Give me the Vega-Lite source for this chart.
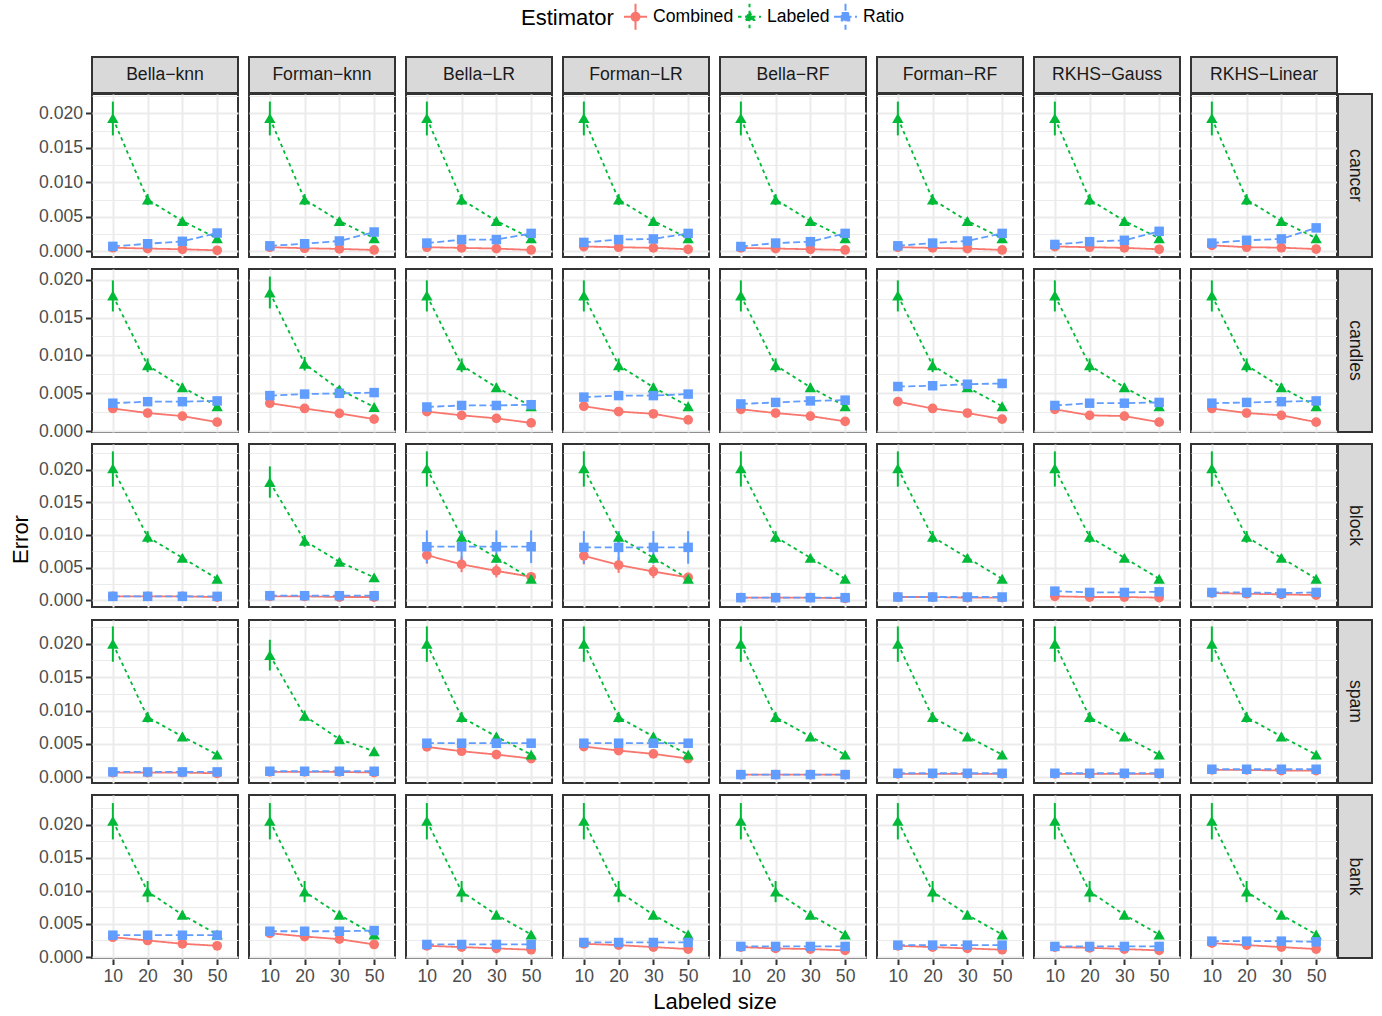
{
  "$schema": "https://vega.github.io/schema/vega-lite/v6.json",
  "padding": {"left": 9, "top": 3, "right": 5, "bottom": 5},
  "config": {
    "font": "Liberation Sans",
    "view": {"stroke": "#333333", "strokeWidth": 2},
    "axis": {
      "domain": false,
      "gridColor": "#EBEBEB",
      "gridWidth": 2,
      "tickColor": "#333333",
      "tickWidth": 2,
      "tickSize": 5.5,
      "labelColor": "#4D4D4D",
      "labelFontSize": 17.6,
      "labelPadding": 3,
      "titleColor": "#000000",
      "titleFontSize": 22,
      "titleFontWeight": "normal",
      "titlePadding": 6
    },
    "legend": {
      "orient": "none",
      "legendX": 429,
      "legendY": -54,
      "padding": 0,
      "direction": "horizontal",
      "titleOrient": "left",
      "titleFontSize": 22,
      "titleFontWeight": "normal",
      "titleColor": "#000000",
      "titleAnchor": "middle",
      "titleBaseline": "middle",
      "titlePadding": 8,
      "labelFontSize": 17.6,
      "labelColor": "#000000",
      "labelOffset": 4,
      "columnPadding": 0,
      "symbolSize": 625,
      "symbolStrokeWidth": 2
    }
  },
  "datasets": {
    "methods": [
      {"m": "Bella−knn"}, {"m": "Forman−knn"}, {"m": "Bella−LR"}, {"m": "Forman−LR"},
      {"m": "Bella−RF"}, {"m": "Forman−RF"}, {"m": "RKHS−Gauss"}, {"m": "RKHS−Linear"}
    ],
    "results": [
      {"d":"cancer","m":"Bella−knn","e":"Combined","n":10,"v":0.00053},
      {"d":"cancer","m":"Bella−knn","e":"Combined","n":20,"v":0.0004},
      {"d":"cancer","m":"Bella−knn","e":"Combined","n":30,"v":0.0003},
      {"d":"cancer","m":"Bella−knn","e":"Combined","n":50,"v":0.00015},
      {"d":"cancer","m":"Bella−knn","e":"Labeled","n":10,"v":0.0193,"lo":0.0168,"hi":0.0217},
      {"d":"cancer","m":"Bella−knn","e":"Labeled","n":20,"v":0.0075,"lo":0.0067,"hi":0.0083},
      {"d":"cancer","m":"Bella−knn","e":"Labeled","n":30,"v":0.0044,"lo":0.0039,"hi":0.0049},
      {"d":"cancer","m":"Bella−knn","e":"Labeled","n":50,"v":0.0019,"lo":0.0016,"hi":0.0022},
      {"d":"cancer","m":"Bella−knn","e":"Ratio","n":10,"v":0.00072},
      {"d":"cancer","m":"Bella−knn","e":"Ratio","n":20,"v":0.0011},
      {"d":"cancer","m":"Bella−knn","e":"Ratio","n":30,"v":0.00145},
      {"d":"cancer","m":"Bella−knn","e":"Ratio","n":50,"v":0.00265},

      {"d":"cancer","m":"Forman−knn","e":"Combined","n":10,"v":0.0006},
      {"d":"cancer","m":"Forman−knn","e":"Combined","n":20,"v":0.00045},
      {"d":"cancer","m":"Forman−knn","e":"Combined","n":30,"v":0.00035},
      {"d":"cancer","m":"Forman−knn","e":"Combined","n":50,"v":0.0002},
      {"d":"cancer","m":"Forman−knn","e":"Labeled","n":10,"v":0.0193,"lo":0.0168,"hi":0.0217},
      {"d":"cancer","m":"Forman−knn","e":"Labeled","n":20,"v":0.0075,"lo":0.0067,"hi":0.0083},
      {"d":"cancer","m":"Forman−knn","e":"Labeled","n":30,"v":0.0044,"lo":0.0039,"hi":0.0049},
      {"d":"cancer","m":"Forman−knn","e":"Labeled","n":50,"v":0.0019,"lo":0.0016,"hi":0.0022},
      {"d":"cancer","m":"Forman−knn","e":"Ratio","n":10,"v":0.0008},
      {"d":"cancer","m":"Forman−knn","e":"Ratio","n":20,"v":0.0011},
      {"d":"cancer","m":"Forman−knn","e":"Ratio","n":30,"v":0.0015},
      {"d":"cancer","m":"Forman−knn","e":"Ratio","n":50,"v":0.0028},

      {"d":"cancer","m":"Bella−LR","e":"Combined","n":10,"v":0.0006},
      {"d":"cancer","m":"Bella−LR","e":"Combined","n":20,"v":0.0005},
      {"d":"cancer","m":"Bella−LR","e":"Combined","n":30,"v":0.0004},
      {"d":"cancer","m":"Bella−LR","e":"Combined","n":50,"v":0.0002},
      {"d":"cancer","m":"Bella−LR","e":"Labeled","n":10,"v":0.0193,"lo":0.0168,"hi":0.0217},
      {"d":"cancer","m":"Bella−LR","e":"Labeled","n":20,"v":0.0075,"lo":0.0067,"hi":0.0083},
      {"d":"cancer","m":"Bella−LR","e":"Labeled","n":30,"v":0.0044,"lo":0.0039,"hi":0.0049},
      {"d":"cancer","m":"Bella−LR","e":"Labeled","n":50,"v":0.0019,"lo":0.0016,"hi":0.0022},
      {"d":"cancer","m":"Bella−LR","e":"Ratio","n":10,"v":0.0012},
      {"d":"cancer","m":"Bella−LR","e":"Ratio","n":20,"v":0.0017},
      {"d":"cancer","m":"Bella−LR","e":"Ratio","n":30,"v":0.0017},
      {"d":"cancer","m":"Bella−LR","e":"Ratio","n":50,"v":0.0026},

      {"d":"cancer","m":"Forman−LR","e":"Combined","n":10,"v":0.0007},
      {"d":"cancer","m":"Forman−LR","e":"Combined","n":20,"v":0.0006},
      {"d":"cancer","m":"Forman−LR","e":"Combined","n":30,"v":0.0005},
      {"d":"cancer","m":"Forman−LR","e":"Combined","n":50,"v":0.0003},
      {"d":"cancer","m":"Forman−LR","e":"Labeled","n":10,"v":0.0193,"lo":0.0168,"hi":0.0217},
      {"d":"cancer","m":"Forman−LR","e":"Labeled","n":20,"v":0.0075,"lo":0.0067,"hi":0.0083},
      {"d":"cancer","m":"Forman−LR","e":"Labeled","n":30,"v":0.0044,"lo":0.0039,"hi":0.0049},
      {"d":"cancer","m":"Forman−LR","e":"Labeled","n":50,"v":0.0019,"lo":0.0016,"hi":0.0022},
      {"d":"cancer","m":"Forman−LR","e":"Ratio","n":10,"v":0.0013},
      {"d":"cancer","m":"Forman−LR","e":"Ratio","n":20,"v":0.0017},
      {"d":"cancer","m":"Forman−LR","e":"Ratio","n":30,"v":0.0018},
      {"d":"cancer","m":"Forman−LR","e":"Ratio","n":50,"v":0.0026},

      {"d":"cancer","m":"Bella−RF","e":"Combined","n":10,"v":0.0005},
      {"d":"cancer","m":"Bella−RF","e":"Combined","n":20,"v":0.0004},
      {"d":"cancer","m":"Bella−RF","e":"Combined","n":30,"v":0.0003},
      {"d":"cancer","m":"Bella−RF","e":"Combined","n":50,"v":0.0002},
      {"d":"cancer","m":"Bella−RF","e":"Labeled","n":10,"v":0.0193,"lo":0.0168,"hi":0.0217},
      {"d":"cancer","m":"Bella−RF","e":"Labeled","n":20,"v":0.0075,"lo":0.0067,"hi":0.0083},
      {"d":"cancer","m":"Bella−RF","e":"Labeled","n":30,"v":0.0044,"lo":0.0039,"hi":0.0049},
      {"d":"cancer","m":"Bella−RF","e":"Labeled","n":50,"v":0.0019,"lo":0.0016,"hi":0.0022},
      {"d":"cancer","m":"Bella−RF","e":"Ratio","n":10,"v":0.0007},
      {"d":"cancer","m":"Bella−RF","e":"Ratio","n":20,"v":0.0012},
      {"d":"cancer","m":"Bella−RF","e":"Ratio","n":30,"v":0.0014},
      {"d":"cancer","m":"Bella−RF","e":"Ratio","n":50,"v":0.0026},

      {"d":"cancer","m":"Forman−RF","e":"Combined","n":10,"v":0.0006},
      {"d":"cancer","m":"Forman−RF","e":"Combined","n":20,"v":0.0005},
      {"d":"cancer","m":"Forman−RF","e":"Combined","n":30,"v":0.0004},
      {"d":"cancer","m":"Forman−RF","e":"Combined","n":50,"v":0.0002},
      {"d":"cancer","m":"Forman−RF","e":"Labeled","n":10,"v":0.0193,"lo":0.0168,"hi":0.0217},
      {"d":"cancer","m":"Forman−RF","e":"Labeled","n":20,"v":0.0075,"lo":0.0067,"hi":0.0083},
      {"d":"cancer","m":"Forman−RF","e":"Labeled","n":30,"v":0.0044,"lo":0.0039,"hi":0.0049},
      {"d":"cancer","m":"Forman−RF","e":"Labeled","n":50,"v":0.0019,"lo":0.0016,"hi":0.0022},
      {"d":"cancer","m":"Forman−RF","e":"Ratio","n":10,"v":0.0008},
      {"d":"cancer","m":"Forman−RF","e":"Ratio","n":20,"v":0.0012},
      {"d":"cancer","m":"Forman−RF","e":"Ratio","n":30,"v":0.0015},
      {"d":"cancer","m":"Forman−RF","e":"Ratio","n":50,"v":0.0026},

      {"d":"cancer","m":"RKHS−Gauss","e":"Combined","n":10,"v":0.0007},
      {"d":"cancer","m":"RKHS−Gauss","e":"Combined","n":20,"v":0.0006},
      {"d":"cancer","m":"RKHS−Gauss","e":"Combined","n":30,"v":0.0005},
      {"d":"cancer","m":"RKHS−Gauss","e":"Combined","n":50,"v":0.0003},
      {"d":"cancer","m":"RKHS−Gauss","e":"Labeled","n":10,"v":0.0193,"lo":0.0168,"hi":0.0217},
      {"d":"cancer","m":"RKHS−Gauss","e":"Labeled","n":20,"v":0.0075,"lo":0.0067,"hi":0.0083},
      {"d":"cancer","m":"RKHS−Gauss","e":"Labeled","n":30,"v":0.0044,"lo":0.0039,"hi":0.0049},
      {"d":"cancer","m":"RKHS−Gauss","e":"Labeled","n":50,"v":0.0019,"lo":0.0016,"hi":0.0022},
      {"d":"cancer","m":"RKHS−Gauss","e":"Ratio","n":10,"v":0.001},
      {"d":"cancer","m":"RKHS−Gauss","e":"Ratio","n":20,"v":0.0014},
      {"d":"cancer","m":"RKHS−Gauss","e":"Ratio","n":30,"v":0.0016},
      {"d":"cancer","m":"RKHS−Gauss","e":"Ratio","n":50,"v":0.0029},

      {"d":"cancer","m":"RKHS−Linear","e":"Combined","n":10,"v":0.00087},
      {"d":"cancer","m":"RKHS−Linear","e":"Combined","n":20,"v":0.0006},
      {"d":"cancer","m":"RKHS−Linear","e":"Combined","n":30,"v":0.00053},
      {"d":"cancer","m":"RKHS−Linear","e":"Combined","n":50,"v":0.00033},
      {"d":"cancer","m":"RKHS−Linear","e":"Labeled","n":10,"v":0.0193,"lo":0.0168,"hi":0.0217},
      {"d":"cancer","m":"RKHS−Linear","e":"Labeled","n":20,"v":0.0075,"lo":0.0067,"hi":0.0083},
      {"d":"cancer","m":"RKHS−Linear","e":"Labeled","n":30,"v":0.0044,"lo":0.0039,"hi":0.0049},
      {"d":"cancer","m":"RKHS−Linear","e":"Labeled","n":50,"v":0.0019,"lo":0.0016,"hi":0.0022},
      {"d":"cancer","m":"RKHS−Linear","e":"Ratio","n":10,"v":0.0012},
      {"d":"cancer","m":"RKHS−Linear","e":"Ratio","n":20,"v":0.0016},
      {"d":"cancer","m":"RKHS−Linear","e":"Ratio","n":30,"v":0.0018},
      {"d":"cancer","m":"RKHS−Linear","e":"Ratio","n":50,"v":0.0034},

      {"d":"candles","m":"Bella−knn","e":"Combined","n":10,"v":0.003},
      {"d":"candles","m":"Bella−knn","e":"Combined","n":20,"v":0.0024},
      {"d":"candles","m":"Bella−knn","e":"Combined","n":30,"v":0.002},
      {"d":"candles","m":"Bella−knn","e":"Combined","n":50,"v":0.0012},
      {"d":"candles","m":"Bella−knn","e":"Labeled","n":10,"v":0.0179,"lo":0.0158,"hi":0.0199},
      {"d":"candles","m":"Bella−knn","e":"Labeled","n":20,"v":0.0087,"lo":0.0078,"hi":0.0096},
      {"d":"candles","m":"Bella−knn","e":"Labeled","n":30,"v":0.0058,"lo":0.0053,"hi":0.0063},
      {"d":"candles","m":"Bella−knn","e":"Labeled","n":50,"v":0.0033,"lo":0.003,"hi":0.0036},
      {"d":"candles","m":"Bella−knn","e":"Ratio","n":10,"v":0.0037},
      {"d":"candles","m":"Bella−knn","e":"Ratio","n":20,"v":0.0039},
      {"d":"candles","m":"Bella−knn","e":"Ratio","n":30,"v":0.0039},
      {"d":"candles","m":"Bella−knn","e":"Ratio","n":50,"v":0.004},

      {"d":"candles","m":"Forman−knn","e":"Combined","n":10,"v":0.0037},
      {"d":"candles","m":"Forman−knn","e":"Combined","n":20,"v":0.003},
      {"d":"candles","m":"Forman−knn","e":"Combined","n":30,"v":0.00235},
      {"d":"candles","m":"Forman−knn","e":"Combined","n":50,"v":0.0016},
      {"d":"candles","m":"Forman−knn","e":"Labeled","n":10,"v":0.0183,"lo":0.0162,"hi":0.0204},
      {"d":"candles","m":"Forman−knn","e":"Labeled","n":20,"v":0.0089,"lo":0.008,"hi":0.0098},
      {"d":"candles","m":"Forman−knn","e":"Labeled","n":30,"v":0.0055,"lo":0.005,"hi":0.006},
      {"d":"candles","m":"Forman−knn","e":"Labeled","n":50,"v":0.0032,"lo":0.0029,"hi":0.0035},
      {"d":"candles","m":"Forman−knn","e":"Ratio","n":10,"v":0.0047},
      {"d":"candles","m":"Forman−knn","e":"Ratio","n":20,"v":0.0049},
      {"d":"candles","m":"Forman−knn","e":"Ratio","n":30,"v":0.005},
      {"d":"candles","m":"Forman−knn","e":"Ratio","n":50,"v":0.0051},

      {"d":"candles","m":"Bella−LR","e":"Combined","n":10,"v":0.0026},
      {"d":"candles","m":"Bella−LR","e":"Combined","n":20,"v":0.0021},
      {"d":"candles","m":"Bella−LR","e":"Combined","n":30,"v":0.0017},
      {"d":"candles","m":"Bella−LR","e":"Combined","n":50,"v":0.0011},
      {"d":"candles","m":"Bella−LR","e":"Labeled","n":10,"v":0.0179,"lo":0.0158,"hi":0.0199},
      {"d":"candles","m":"Bella−LR","e":"Labeled","n":20,"v":0.0087,"lo":0.0078,"hi":0.0096},
      {"d":"candles","m":"Bella−LR","e":"Labeled","n":30,"v":0.0058,"lo":0.0053,"hi":0.0063},
      {"d":"candles","m":"Bella−LR","e":"Labeled","n":50,"v":0.0033,"lo":0.003,"hi":0.0036},
      {"d":"candles","m":"Bella−LR","e":"Ratio","n":10,"v":0.0032},
      {"d":"candles","m":"Bella−LR","e":"Ratio","n":20,"v":0.0034},
      {"d":"candles","m":"Bella−LR","e":"Ratio","n":30,"v":0.0034},
      {"d":"candles","m":"Bella−LR","e":"Ratio","n":50,"v":0.0035},

      {"d":"candles","m":"Forman−LR","e":"Combined","n":10,"v":0.0033},
      {"d":"candles","m":"Forman−LR","e":"Combined","n":20,"v":0.0026},
      {"d":"candles","m":"Forman−LR","e":"Combined","n":30,"v":0.0023},
      {"d":"candles","m":"Forman−LR","e":"Combined","n":50,"v":0.0015},
      {"d":"candles","m":"Forman−LR","e":"Labeled","n":10,"v":0.0179,"lo":0.0158,"hi":0.0199},
      {"d":"candles","m":"Forman−LR","e":"Labeled","n":20,"v":0.0087,"lo":0.0078,"hi":0.0096},
      {"d":"candles","m":"Forman−LR","e":"Labeled","n":30,"v":0.0058,"lo":0.0053,"hi":0.0063},
      {"d":"candles","m":"Forman−LR","e":"Labeled","n":50,"v":0.0033,"lo":0.003,"hi":0.0036},
      {"d":"candles","m":"Forman−LR","e":"Ratio","n":10,"v":0.0045},
      {"d":"candles","m":"Forman−LR","e":"Ratio","n":20,"v":0.0047},
      {"d":"candles","m":"Forman−LR","e":"Ratio","n":30,"v":0.0047},
      {"d":"candles","m":"Forman−LR","e":"Ratio","n":50,"v":0.0049},

      {"d":"candles","m":"Bella−RF","e":"Combined","n":10,"v":0.0029},
      {"d":"candles","m":"Bella−RF","e":"Combined","n":20,"v":0.0024},
      {"d":"candles","m":"Bella−RF","e":"Combined","n":30,"v":0.002},
      {"d":"candles","m":"Bella−RF","e":"Combined","n":50,"v":0.0013},
      {"d":"candles","m":"Bella−RF","e":"Labeled","n":10,"v":0.0179,"lo":0.0158,"hi":0.0199},
      {"d":"candles","m":"Bella−RF","e":"Labeled","n":20,"v":0.0087,"lo":0.0078,"hi":0.0096},
      {"d":"candles","m":"Bella−RF","e":"Labeled","n":30,"v":0.0058,"lo":0.0053,"hi":0.0063},
      {"d":"candles","m":"Bella−RF","e":"Labeled","n":50,"v":0.0033,"lo":0.003,"hi":0.0036},
      {"d":"candles","m":"Bella−RF","e":"Ratio","n":10,"v":0.0036},
      {"d":"candles","m":"Bella−RF","e":"Ratio","n":20,"v":0.0038},
      {"d":"candles","m":"Bella−RF","e":"Ratio","n":30,"v":0.004},
      {"d":"candles","m":"Bella−RF","e":"Ratio","n":50,"v":0.0041},

      {"d":"candles","m":"Forman−RF","e":"Combined","n":10,"v":0.0039},
      {"d":"candles","m":"Forman−RF","e":"Combined","n":20,"v":0.003},
      {"d":"candles","m":"Forman−RF","e":"Combined","n":30,"v":0.0024},
      {"d":"candles","m":"Forman−RF","e":"Combined","n":50,"v":0.0016},
      {"d":"candles","m":"Forman−RF","e":"Labeled","n":10,"v":0.0179,"lo":0.0158,"hi":0.0199},
      {"d":"candles","m":"Forman−RF","e":"Labeled","n":20,"v":0.0087,"lo":0.0078,"hi":0.0096},
      {"d":"candles","m":"Forman−RF","e":"Labeled","n":30,"v":0.0058,"lo":0.0053,"hi":0.0063},
      {"d":"candles","m":"Forman−RF","e":"Labeled","n":50,"v":0.0033,"lo":0.003,"hi":0.0036},
      {"d":"candles","m":"Forman−RF","e":"Ratio","n":10,"v":0.0059},
      {"d":"candles","m":"Forman−RF","e":"Ratio","n":20,"v":0.006},
      {"d":"candles","m":"Forman−RF","e":"Ratio","n":30,"v":0.0062},
      {"d":"candles","m":"Forman−RF","e":"Ratio","n":50,"v":0.0063},

      {"d":"candles","m":"RKHS−Gauss","e":"Combined","n":10,"v":0.0029},
      {"d":"candles","m":"RKHS−Gauss","e":"Combined","n":20,"v":0.0021},
      {"d":"candles","m":"RKHS−Gauss","e":"Combined","n":30,"v":0.002},
      {"d":"candles","m":"RKHS−Gauss","e":"Combined","n":50,"v":0.0012},
      {"d":"candles","m":"RKHS−Gauss","e":"Labeled","n":10,"v":0.0179,"lo":0.0158,"hi":0.0199},
      {"d":"candles","m":"RKHS−Gauss","e":"Labeled","n":20,"v":0.0087,"lo":0.0078,"hi":0.0096},
      {"d":"candles","m":"RKHS−Gauss","e":"Labeled","n":30,"v":0.0058,"lo":0.0053,"hi":0.0063},
      {"d":"candles","m":"RKHS−Gauss","e":"Labeled","n":50,"v":0.0033,"lo":0.003,"hi":0.0036},
      {"d":"candles","m":"RKHS−Gauss","e":"Ratio","n":10,"v":0.0034},
      {"d":"candles","m":"RKHS−Gauss","e":"Ratio","n":20,"v":0.0037},
      {"d":"candles","m":"RKHS−Gauss","e":"Ratio","n":30,"v":0.0037},
      {"d":"candles","m":"RKHS−Gauss","e":"Ratio","n":50,"v":0.0038},

      {"d":"candles","m":"RKHS−Linear","e":"Combined","n":10,"v":0.003},
      {"d":"candles","m":"RKHS−Linear","e":"Combined","n":20,"v":0.0024},
      {"d":"candles","m":"RKHS−Linear","e":"Combined","n":30,"v":0.0021},
      {"d":"candles","m":"RKHS−Linear","e":"Combined","n":50,"v":0.0012},
      {"d":"candles","m":"RKHS−Linear","e":"Labeled","n":10,"v":0.0179,"lo":0.0158,"hi":0.0199},
      {"d":"candles","m":"RKHS−Linear","e":"Labeled","n":20,"v":0.0087,"lo":0.0078,"hi":0.0096},
      {"d":"candles","m":"RKHS−Linear","e":"Labeled","n":30,"v":0.0058,"lo":0.0053,"hi":0.0063},
      {"d":"candles","m":"RKHS−Linear","e":"Labeled","n":50,"v":0.0033,"lo":0.003,"hi":0.0036},
      {"d":"candles","m":"RKHS−Linear","e":"Ratio","n":10,"v":0.0037},
      {"d":"candles","m":"RKHS−Linear","e":"Ratio","n":20,"v":0.0038},
      {"d":"candles","m":"RKHS−Linear","e":"Ratio","n":30,"v":0.0039},
      {"d":"candles","m":"RKHS−Linear","e":"Ratio","n":50,"v":0.004},

      {"d":"block","m":"Bella−knn","e":"Combined","n":10,"v":0.0006},
      {"d":"block","m":"Bella−knn","e":"Combined","n":20,"v":0.0006},
      {"d":"block","m":"Bella−knn","e":"Combined","n":30,"v":0.0006},
      {"d":"block","m":"Bella−knn","e":"Combined","n":50,"v":0.0005},
      {"d":"block","m":"Bella−knn","e":"Labeled","n":10,"v":0.0202,"lo":0.0174,"hi":0.0228},
      {"d":"block","m":"Bella−knn","e":"Labeled","n":20,"v":0.0097,"lo":0.0088,"hi":0.0106},
      {"d":"block","m":"Bella−knn","e":"Labeled","n":30,"v":0.0065,"lo":0.006,"hi":0.007},
      {"d":"block","m":"Bella−knn","e":"Labeled","n":50,"v":0.0033,"lo":0.003,"hi":0.0036},
      {"d":"block","m":"Bella−knn","e":"Ratio","n":10,"v":0.0006},
      {"d":"block","m":"Bella−knn","e":"Ratio","n":20,"v":0.0006},
      {"d":"block","m":"Bella−knn","e":"Ratio","n":30,"v":0.0006},
      {"d":"block","m":"Bella−knn","e":"Ratio","n":50,"v":0.0006},

      {"d":"block","m":"Forman−knn","e":"Combined","n":10,"v":0.0006},
      {"d":"block","m":"Forman−knn","e":"Combined","n":20,"v":0.0006},
      {"d":"block","m":"Forman−knn","e":"Combined","n":30,"v":0.0005},
      {"d":"block","m":"Forman−knn","e":"Combined","n":50,"v":0.0005},
      {"d":"block","m":"Forman−knn","e":"Labeled","n":10,"v":0.0181,"lo":0.0157,"hi":0.0205},
      {"d":"block","m":"Forman−knn","e":"Labeled","n":20,"v":0.0091,"lo":0.0082,"hi":0.01},
      {"d":"block","m":"Forman−knn","e":"Labeled","n":30,"v":0.0059,"lo":0.0054,"hi":0.0064},
      {"d":"block","m":"Forman−knn","e":"Labeled","n":50,"v":0.0035,"lo":0.0032,"hi":0.0038},
      {"d":"block","m":"Forman−knn","e":"Ratio","n":10,"v":0.0007},
      {"d":"block","m":"Forman−knn","e":"Ratio","n":20,"v":0.0007},
      {"d":"block","m":"Forman−knn","e":"Ratio","n":30,"v":0.0007},
      {"d":"block","m":"Forman−knn","e":"Ratio","n":50,"v":0.0007},

      {"d":"block","m":"Bella−LR","e":"Combined","n":10,"v":0.0069,"lo":0.0056,"hi":0.0082},
      {"d":"block","m":"Bella−LR","e":"Combined","n":20,"v":0.0055,"lo":0.0043,"hi":0.0067},
      {"d":"block","m":"Bella−LR","e":"Combined","n":30,"v":0.0045,"lo":0.0035,"hi":0.0055},
      {"d":"block","m":"Bella−LR","e":"Combined","n":50,"v":0.0036,"lo":0.0029,"hi":0.0043},
      {"d":"block","m":"Bella−LR","e":"Labeled","n":10,"v":0.0202,"lo":0.0174,"hi":0.0228},
      {"d":"block","m":"Bella−LR","e":"Labeled","n":20,"v":0.0097,"lo":0.0088,"hi":0.0106},
      {"d":"block","m":"Bella−LR","e":"Labeled","n":30,"v":0.0065,"lo":0.006,"hi":0.007},
      {"d":"block","m":"Bella−LR","e":"Labeled","n":50,"v":0.0033,"lo":0.003,"hi":0.0036},
      {"d":"block","m":"Bella−LR","e":"Ratio","n":10,"v":0.0082,"lo":0.0057,"hi":0.0107},
      {"d":"block","m":"Bella−LR","e":"Ratio","n":20,"v":0.0082,"lo":0.0057,"hi":0.0107},
      {"d":"block","m":"Bella−LR","e":"Ratio","n":30,"v":0.0082,"lo":0.0057,"hi":0.0107},
      {"d":"block","m":"Bella−LR","e":"Ratio","n":50,"v":0.0082,"lo":0.0057,"hi":0.0107},

      {"d":"block","m":"Forman−LR","e":"Combined","n":10,"v":0.0068,"lo":0.0055,"hi":0.0081},
      {"d":"block","m":"Forman−LR","e":"Combined","n":20,"v":0.0054,"lo":0.0042,"hi":0.0066},
      {"d":"block","m":"Forman−LR","e":"Combined","n":30,"v":0.0044,"lo":0.0034,"hi":0.0054},
      {"d":"block","m":"Forman−LR","e":"Combined","n":50,"v":0.0035,"lo":0.0028,"hi":0.0042},
      {"d":"block","m":"Forman−LR","e":"Labeled","n":10,"v":0.0202,"lo":0.0174,"hi":0.0228},
      {"d":"block","m":"Forman−LR","e":"Labeled","n":20,"v":0.0097,"lo":0.0088,"hi":0.0106},
      {"d":"block","m":"Forman−LR","e":"Labeled","n":30,"v":0.0065,"lo":0.006,"hi":0.007},
      {"d":"block","m":"Forman−LR","e":"Labeled","n":50,"v":0.0033,"lo":0.003,"hi":0.0036},
      {"d":"block","m":"Forman−LR","e":"Ratio","n":10,"v":0.0081,"lo":0.0056,"hi":0.0106},
      {"d":"block","m":"Forman−LR","e":"Ratio","n":20,"v":0.0081,"lo":0.0056,"hi":0.0106},
      {"d":"block","m":"Forman−LR","e":"Ratio","n":30,"v":0.0081,"lo":0.0056,"hi":0.0106},
      {"d":"block","m":"Forman−LR","e":"Ratio","n":50,"v":0.0081,"lo":0.0056,"hi":0.0106},

      {"d":"block","m":"Bella−RF","e":"Combined","n":10,"v":0.0004},
      {"d":"block","m":"Bella−RF","e":"Combined","n":20,"v":0.0004},
      {"d":"block","m":"Bella−RF","e":"Combined","n":30,"v":0.0004},
      {"d":"block","m":"Bella−RF","e":"Combined","n":50,"v":0.0003},
      {"d":"block","m":"Bella−RF","e":"Labeled","n":10,"v":0.0202,"lo":0.0174,"hi":0.0228},
      {"d":"block","m":"Bella−RF","e":"Labeled","n":20,"v":0.0097,"lo":0.0088,"hi":0.0106},
      {"d":"block","m":"Bella−RF","e":"Labeled","n":30,"v":0.0065,"lo":0.006,"hi":0.007},
      {"d":"block","m":"Bella−RF","e":"Labeled","n":50,"v":0.0033,"lo":0.003,"hi":0.0036},
      {"d":"block","m":"Bella−RF","e":"Ratio","n":10,"v":0.0004},
      {"d":"block","m":"Bella−RF","e":"Ratio","n":20,"v":0.0004},
      {"d":"block","m":"Bella−RF","e":"Ratio","n":30,"v":0.0004},
      {"d":"block","m":"Bella−RF","e":"Ratio","n":50,"v":0.0004},

      {"d":"block","m":"Forman−RF","e":"Combined","n":10,"v":0.0005},
      {"d":"block","m":"Forman−RF","e":"Combined","n":20,"v":0.0005},
      {"d":"block","m":"Forman−RF","e":"Combined","n":30,"v":0.0004},
      {"d":"block","m":"Forman−RF","e":"Combined","n":50,"v":0.0004},
      {"d":"block","m":"Forman−RF","e":"Labeled","n":10,"v":0.0202,"lo":0.0174,"hi":0.0228},
      {"d":"block","m":"Forman−RF","e":"Labeled","n":20,"v":0.0097,"lo":0.0088,"hi":0.0106},
      {"d":"block","m":"Forman−RF","e":"Labeled","n":30,"v":0.0065,"lo":0.006,"hi":0.007},
      {"d":"block","m":"Forman−RF","e":"Labeled","n":50,"v":0.0033,"lo":0.003,"hi":0.0036},
      {"d":"block","m":"Forman−RF","e":"Ratio","n":10,"v":0.0005},
      {"d":"block","m":"Forman−RF","e":"Ratio","n":20,"v":0.0005},
      {"d":"block","m":"Forman−RF","e":"Ratio","n":30,"v":0.0005},
      {"d":"block","m":"Forman−RF","e":"Ratio","n":50,"v":0.0005},

      {"d":"block","m":"RKHS−Gauss","e":"Combined","n":10,"v":0.0006},
      {"d":"block","m":"RKHS−Gauss","e":"Combined","n":20,"v":0.0005},
      {"d":"block","m":"RKHS−Gauss","e":"Combined","n":30,"v":0.0005},
      {"d":"block","m":"RKHS−Gauss","e":"Combined","n":50,"v":0.0004},
      {"d":"block","m":"RKHS−Gauss","e":"Labeled","n":10,"v":0.0202,"lo":0.0174,"hi":0.0228},
      {"d":"block","m":"RKHS−Gauss","e":"Labeled","n":20,"v":0.0097,"lo":0.0088,"hi":0.0106},
      {"d":"block","m":"RKHS−Gauss","e":"Labeled","n":30,"v":0.0065,"lo":0.006,"hi":0.007},
      {"d":"block","m":"RKHS−Gauss","e":"Labeled","n":50,"v":0.0033,"lo":0.003,"hi":0.0036},
      {"d":"block","m":"RKHS−Gauss","e":"Ratio","n":10,"v":0.0014,"lo":0.0008,"hi":0.002},
      {"d":"block","m":"RKHS−Gauss","e":"Ratio","n":20,"v":0.0012,"lo":0.0008,"hi":0.0016},
      {"d":"block","m":"RKHS−Gauss","e":"Ratio","n":30,"v":0.0012,"lo":0.0008,"hi":0.0016},
      {"d":"block","m":"RKHS−Gauss","e":"Ratio","n":50,"v":0.0013,"lo":0.0009,"hi":0.0017},

      {"d":"block","m":"RKHS−Linear","e":"Combined","n":10,"v":0.0011},
      {"d":"block","m":"RKHS−Linear","e":"Combined","n":20,"v":0.001},
      {"d":"block","m":"RKHS−Linear","e":"Combined","n":30,"v":0.0009},
      {"d":"block","m":"RKHS−Linear","e":"Combined","n":50,"v":0.0008},
      {"d":"block","m":"RKHS−Linear","e":"Labeled","n":10,"v":0.0202,"lo":0.0174,"hi":0.0228},
      {"d":"block","m":"RKHS−Linear","e":"Labeled","n":20,"v":0.0097,"lo":0.0088,"hi":0.0106},
      {"d":"block","m":"RKHS−Linear","e":"Labeled","n":30,"v":0.0065,"lo":0.006,"hi":0.007},
      {"d":"block","m":"RKHS−Linear","e":"Labeled","n":50,"v":0.0033,"lo":0.003,"hi":0.0036},
      {"d":"block","m":"RKHS−Linear","e":"Ratio","n":10,"v":0.0012},
      {"d":"block","m":"RKHS−Linear","e":"Ratio","n":20,"v":0.0012},
      {"d":"block","m":"RKHS−Linear","e":"Ratio","n":30,"v":0.0011},
      {"d":"block","m":"RKHS−Linear","e":"Ratio","n":50,"v":0.0012},

      {"d":"spam","m":"Bella−knn","e":"Combined","n":10,"v":0.0007},
      {"d":"spam","m":"Bella−knn","e":"Combined","n":20,"v":0.0007},
      {"d":"spam","m":"Bella−knn","e":"Combined","n":30,"v":0.0007},
      {"d":"spam","m":"Bella−knn","e":"Combined","n":50,"v":0.0006},
      {"d":"spam","m":"Bella−knn","e":"Labeled","n":10,"v":0.02,"lo":0.0173,"hi":0.0226},
      {"d":"spam","m":"Bella−knn","e":"Labeled","n":20,"v":0.009,"lo":0.0082,"hi":0.0098},
      {"d":"spam","m":"Bella−knn","e":"Labeled","n":30,"v":0.0061,"lo":0.0056,"hi":0.0066},
      {"d":"spam","m":"Bella−knn","e":"Labeled","n":50,"v":0.0034,"lo":0.0031,"hi":0.0037},
      {"d":"spam","m":"Bella−knn","e":"Ratio","n":10,"v":0.0008},
      {"d":"spam","m":"Bella−knn","e":"Ratio","n":20,"v":0.0008},
      {"d":"spam","m":"Bella−knn","e":"Ratio","n":30,"v":0.0008},
      {"d":"spam","m":"Bella−knn","e":"Ratio","n":50,"v":0.0008},

      {"d":"spam","m":"Forman−knn","e":"Combined","n":10,"v":0.0008},
      {"d":"spam","m":"Forman−knn","e":"Combined","n":20,"v":0.0008},
      {"d":"spam","m":"Forman−knn","e":"Combined","n":30,"v":0.0008},
      {"d":"spam","m":"Forman−knn","e":"Combined","n":50,"v":0.0007},
      {"d":"spam","m":"Forman−knn","e":"Labeled","n":10,"v":0.0183,"lo":0.016,"hi":0.0206},
      {"d":"spam","m":"Forman−knn","e":"Labeled","n":20,"v":0.0092,"lo":0.0084,"hi":0.01},
      {"d":"spam","m":"Forman−knn","e":"Labeled","n":30,"v":0.0057,"lo":0.0052,"hi":0.0062},
      {"d":"spam","m":"Forman−knn","e":"Labeled","n":50,"v":0.0039,"lo":0.0036,"hi":0.0042},
      {"d":"spam","m":"Forman−knn","e":"Ratio","n":10,"v":0.0009},
      {"d":"spam","m":"Forman−knn","e":"Ratio","n":20,"v":0.0009},
      {"d":"spam","m":"Forman−knn","e":"Ratio","n":30,"v":0.0009},
      {"d":"spam","m":"Forman−knn","e":"Ratio","n":50,"v":0.0009},

      {"d":"spam","m":"Bella−LR","e":"Combined","n":10,"v":0.00455},
      {"d":"spam","m":"Bella−LR","e":"Combined","n":20,"v":0.0039},
      {"d":"spam","m":"Bella−LR","e":"Combined","n":30,"v":0.0034},
      {"d":"spam","m":"Bella−LR","e":"Combined","n":50,"v":0.0028},
      {"d":"spam","m":"Bella−LR","e":"Labeled","n":10,"v":0.02,"lo":0.0173,"hi":0.0226},
      {"d":"spam","m":"Bella−LR","e":"Labeled","n":20,"v":0.009,"lo":0.0082,"hi":0.0098},
      {"d":"spam","m":"Bella−LR","e":"Labeled","n":30,"v":0.0061,"lo":0.0056,"hi":0.0066},
      {"d":"spam","m":"Bella−LR","e":"Labeled","n":50,"v":0.0034,"lo":0.0031,"hi":0.0037},
      {"d":"spam","m":"Bella−LR","e":"Ratio","n":10,"v":0.0051},
      {"d":"spam","m":"Bella−LR","e":"Ratio","n":20,"v":0.0051},
      {"d":"spam","m":"Bella−LR","e":"Ratio","n":30,"v":0.0051},
      {"d":"spam","m":"Bella−LR","e":"Ratio","n":50,"v":0.0051},

      {"d":"spam","m":"Forman−LR","e":"Combined","n":10,"v":0.0046},
      {"d":"spam","m":"Forman−LR","e":"Combined","n":20,"v":0.004},
      {"d":"spam","m":"Forman−LR","e":"Combined","n":30,"v":0.0035},
      {"d":"spam","m":"Forman−LR","e":"Combined","n":50,"v":0.0028},
      {"d":"spam","m":"Forman−LR","e":"Labeled","n":10,"v":0.02,"lo":0.0173,"hi":0.0226},
      {"d":"spam","m":"Forman−LR","e":"Labeled","n":20,"v":0.009,"lo":0.0082,"hi":0.0098},
      {"d":"spam","m":"Forman−LR","e":"Labeled","n":30,"v":0.0061,"lo":0.0056,"hi":0.0066},
      {"d":"spam","m":"Forman−LR","e":"Labeled","n":50,"v":0.0034,"lo":0.0031,"hi":0.0037},
      {"d":"spam","m":"Forman−LR","e":"Ratio","n":10,"v":0.0051},
      {"d":"spam","m":"Forman−LR","e":"Ratio","n":20,"v":0.0051},
      {"d":"spam","m":"Forman−LR","e":"Ratio","n":30,"v":0.0051},
      {"d":"spam","m":"Forman−LR","e":"Ratio","n":50,"v":0.0051},

      {"d":"spam","m":"Bella−RF","e":"Combined","n":10,"v":0.0004},
      {"d":"spam","m":"Bella−RF","e":"Combined","n":20,"v":0.0004},
      {"d":"spam","m":"Bella−RF","e":"Combined","n":30,"v":0.0004},
      {"d":"spam","m":"Bella−RF","e":"Combined","n":50,"v":0.0004},
      {"d":"spam","m":"Bella−RF","e":"Labeled","n":10,"v":0.02,"lo":0.0173,"hi":0.0226},
      {"d":"spam","m":"Bella−RF","e":"Labeled","n":20,"v":0.009,"lo":0.0082,"hi":0.0098},
      {"d":"spam","m":"Bella−RF","e":"Labeled","n":30,"v":0.0061,"lo":0.0056,"hi":0.0066},
      {"d":"spam","m":"Bella−RF","e":"Labeled","n":50,"v":0.0034,"lo":0.0031,"hi":0.0037},
      {"d":"spam","m":"Bella−RF","e":"Ratio","n":10,"v":0.0004},
      {"d":"spam","m":"Bella−RF","e":"Ratio","n":20,"v":0.0004},
      {"d":"spam","m":"Bella−RF","e":"Ratio","n":30,"v":0.0004},
      {"d":"spam","m":"Bella−RF","e":"Ratio","n":50,"v":0.0004},

      {"d":"spam","m":"Forman−RF","e":"Combined","n":10,"v":0.0005},
      {"d":"spam","m":"Forman−RF","e":"Combined","n":20,"v":0.0005},
      {"d":"spam","m":"Forman−RF","e":"Combined","n":30,"v":0.0005},
      {"d":"spam","m":"Forman−RF","e":"Combined","n":50,"v":0.0005},
      {"d":"spam","m":"Forman−RF","e":"Labeled","n":10,"v":0.02,"lo":0.0173,"hi":0.0226},
      {"d":"spam","m":"Forman−RF","e":"Labeled","n":20,"v":0.009,"lo":0.0082,"hi":0.0098},
      {"d":"spam","m":"Forman−RF","e":"Labeled","n":30,"v":0.0061,"lo":0.0056,"hi":0.0066},
      {"d":"spam","m":"Forman−RF","e":"Labeled","n":50,"v":0.0034,"lo":0.0031,"hi":0.0037},
      {"d":"spam","m":"Forman−RF","e":"Ratio","n":10,"v":0.0006},
      {"d":"spam","m":"Forman−RF","e":"Ratio","n":20,"v":0.0006},
      {"d":"spam","m":"Forman−RF","e":"Ratio","n":30,"v":0.0006},
      {"d":"spam","m":"Forman−RF","e":"Ratio","n":50,"v":0.0006},

      {"d":"spam","m":"RKHS−Gauss","e":"Combined","n":10,"v":0.0005},
      {"d":"spam","m":"RKHS−Gauss","e":"Combined","n":20,"v":0.0005},
      {"d":"spam","m":"RKHS−Gauss","e":"Combined","n":30,"v":0.0005},
      {"d":"spam","m":"RKHS−Gauss","e":"Combined","n":50,"v":0.0005},
      {"d":"spam","m":"RKHS−Gauss","e":"Labeled","n":10,"v":0.02,"lo":0.0173,"hi":0.0226},
      {"d":"spam","m":"RKHS−Gauss","e":"Labeled","n":20,"v":0.009,"lo":0.0082,"hi":0.0098},
      {"d":"spam","m":"RKHS−Gauss","e":"Labeled","n":30,"v":0.0061,"lo":0.0056,"hi":0.0066},
      {"d":"spam","m":"RKHS−Gauss","e":"Labeled","n":50,"v":0.0034,"lo":0.0031,"hi":0.0037},
      {"d":"spam","m":"RKHS−Gauss","e":"Ratio","n":10,"v":0.0006},
      {"d":"spam","m":"RKHS−Gauss","e":"Ratio","n":20,"v":0.0006},
      {"d":"spam","m":"RKHS−Gauss","e":"Ratio","n":30,"v":0.0006},
      {"d":"spam","m":"RKHS−Gauss","e":"Ratio","n":50,"v":0.0006},

      {"d":"spam","m":"RKHS−Linear","e":"Combined","n":10,"v":0.0011},
      {"d":"spam","m":"RKHS−Linear","e":"Combined","n":20,"v":0.0011},
      {"d":"spam","m":"RKHS−Linear","e":"Combined","n":30,"v":0.001},
      {"d":"spam","m":"RKHS−Linear","e":"Combined","n":50,"v":0.001},
      {"d":"spam","m":"RKHS−Linear","e":"Labeled","n":10,"v":0.02,"lo":0.0173,"hi":0.0226},
      {"d":"spam","m":"RKHS−Linear","e":"Labeled","n":20,"v":0.009,"lo":0.0082,"hi":0.0098},
      {"d":"spam","m":"RKHS−Linear","e":"Labeled","n":30,"v":0.0061,"lo":0.0056,"hi":0.0066},
      {"d":"spam","m":"RKHS−Linear","e":"Labeled","n":50,"v":0.0034,"lo":0.0031,"hi":0.0037},
      {"d":"spam","m":"RKHS−Linear","e":"Ratio","n":10,"v":0.0012},
      {"d":"spam","m":"RKHS−Linear","e":"Ratio","n":20,"v":0.0012},
      {"d":"spam","m":"RKHS−Linear","e":"Ratio","n":30,"v":0.0012},
      {"d":"spam","m":"RKHS−Linear","e":"Ratio","n":50,"v":0.0012},

      {"d":"bank","m":"Bella−knn","e":"Combined","n":10,"v":0.003},
      {"d":"bank","m":"Bella−knn","e":"Combined","n":20,"v":0.0025},
      {"d":"bank","m":"Bella−knn","e":"Combined","n":30,"v":0.002},
      {"d":"bank","m":"Bella−knn","e":"Combined","n":50,"v":0.0017},
      {"d":"bank","m":"Bella−knn","e":"Labeled","n":10,"v":0.0206,"lo":0.0178,"hi":0.0233},
      {"d":"bank","m":"Bella−knn","e":"Labeled","n":20,"v":0.0099,"lo":0.0083,"hi":0.0115},
      {"d":"bank","m":"Bella−knn","e":"Labeled","n":30,"v":0.0064,"lo":0.0058,"hi":0.007},
      {"d":"bank","m":"Bella−knn","e":"Labeled","n":50,"v":0.0034,"lo":0.003,"hi":0.0038},
      {"d":"bank","m":"Bella−knn","e":"Ratio","n":10,"v":0.0033},
      {"d":"bank","m":"Bella−knn","e":"Ratio","n":20,"v":0.0033},
      {"d":"bank","m":"Bella−knn","e":"Ratio","n":30,"v":0.0033},
      {"d":"bank","m":"Bella−knn","e":"Ratio","n":50,"v":0.0033},

      {"d":"bank","m":"Forman−knn","e":"Combined","n":10,"v":0.0036},
      {"d":"bank","m":"Forman−knn","e":"Combined","n":20,"v":0.0031},
      {"d":"bank","m":"Forman−knn","e":"Combined","n":30,"v":0.0027},
      {"d":"bank","m":"Forman−knn","e":"Combined","n":50,"v":0.0019},
      {"d":"bank","m":"Forman−knn","e":"Labeled","n":10,"v":0.0206,"lo":0.0178,"hi":0.0233},
      {"d":"bank","m":"Forman−knn","e":"Labeled","n":20,"v":0.0099,"lo":0.0083,"hi":0.0115},
      {"d":"bank","m":"Forman−knn","e":"Labeled","n":30,"v":0.0064,"lo":0.0058,"hi":0.007},
      {"d":"bank","m":"Forman−knn","e":"Labeled","n":50,"v":0.0034,"lo":0.003,"hi":0.0038},
      {"d":"bank","m":"Forman−knn","e":"Ratio","n":10,"v":0.0039},
      {"d":"bank","m":"Forman−knn","e":"Ratio","n":20,"v":0.0039},
      {"d":"bank","m":"Forman−knn","e":"Ratio","n":30,"v":0.0039},
      {"d":"bank","m":"Forman−knn","e":"Ratio","n":50,"v":0.004},

      {"d":"bank","m":"Bella−LR","e":"Combined","n":10,"v":0.0017},
      {"d":"bank","m":"Bella−LR","e":"Combined","n":20,"v":0.0015},
      {"d":"bank","m":"Bella−LR","e":"Combined","n":30,"v":0.0013},
      {"d":"bank","m":"Bella−LR","e":"Combined","n":50,"v":0.0011},
      {"d":"bank","m":"Bella−LR","e":"Labeled","n":10,"v":0.0206,"lo":0.0178,"hi":0.0233},
      {"d":"bank","m":"Bella−LR","e":"Labeled","n":20,"v":0.0099,"lo":0.0083,"hi":0.0115},
      {"d":"bank","m":"Bella−LR","e":"Labeled","n":30,"v":0.0064,"lo":0.0058,"hi":0.007},
      {"d":"bank","m":"Bella−LR","e":"Labeled","n":50,"v":0.0034,"lo":0.003,"hi":0.0038},
      {"d":"bank","m":"Bella−LR","e":"Ratio","n":10,"v":0.0019},
      {"d":"bank","m":"Bella−LR","e":"Ratio","n":20,"v":0.0019},
      {"d":"bank","m":"Bella−LR","e":"Ratio","n":30,"v":0.0019},
      {"d":"bank","m":"Bella−LR","e":"Ratio","n":50,"v":0.0019},

      {"d":"bank","m":"Forman−LR","e":"Combined","n":10,"v":0.002},
      {"d":"bank","m":"Forman−LR","e":"Combined","n":20,"v":0.0018},
      {"d":"bank","m":"Forman−LR","e":"Combined","n":30,"v":0.0015},
      {"d":"bank","m":"Forman−LR","e":"Combined","n":50,"v":0.0012},
      {"d":"bank","m":"Forman−LR","e":"Labeled","n":10,"v":0.0206,"lo":0.0178,"hi":0.0233},
      {"d":"bank","m":"Forman−LR","e":"Labeled","n":20,"v":0.0099,"lo":0.0083,"hi":0.0115},
      {"d":"bank","m":"Forman−LR","e":"Labeled","n":30,"v":0.0064,"lo":0.0058,"hi":0.007},
      {"d":"bank","m":"Forman−LR","e":"Labeled","n":50,"v":0.0034,"lo":0.003,"hi":0.0038},
      {"d":"bank","m":"Forman−LR","e":"Ratio","n":10,"v":0.0022},
      {"d":"bank","m":"Forman−LR","e":"Ratio","n":20,"v":0.0022},
      {"d":"bank","m":"Forman−LR","e":"Ratio","n":30,"v":0.0022},
      {"d":"bank","m":"Forman−LR","e":"Ratio","n":50,"v":0.0022},

      {"d":"bank","m":"Bella−RF","e":"Combined","n":10,"v":0.0015},
      {"d":"bank","m":"Bella−RF","e":"Combined","n":20,"v":0.0013},
      {"d":"bank","m":"Bella−RF","e":"Combined","n":30,"v":0.0012},
      {"d":"bank","m":"Bella−RF","e":"Combined","n":50,"v":0.001},
      {"d":"bank","m":"Bella−RF","e":"Labeled","n":10,"v":0.0206,"lo":0.0178,"hi":0.0233},
      {"d":"bank","m":"Bella−RF","e":"Labeled","n":20,"v":0.0099,"lo":0.0083,"hi":0.0115},
      {"d":"bank","m":"Bella−RF","e":"Labeled","n":30,"v":0.0064,"lo":0.0058,"hi":0.007},
      {"d":"bank","m":"Bella−RF","e":"Labeled","n":50,"v":0.0034,"lo":0.003,"hi":0.0038},
      {"d":"bank","m":"Bella−RF","e":"Ratio","n":10,"v":0.0016},
      {"d":"bank","m":"Bella−RF","e":"Ratio","n":20,"v":0.0016},
      {"d":"bank","m":"Bella−RF","e":"Ratio","n":30,"v":0.0016},
      {"d":"bank","m":"Bella−RF","e":"Ratio","n":50,"v":0.0016},

      {"d":"bank","m":"Forman−RF","e":"Combined","n":10,"v":0.0017},
      {"d":"bank","m":"Forman−RF","e":"Combined","n":20,"v":0.0015},
      {"d":"bank","m":"Forman−RF","e":"Combined","n":30,"v":0.0013},
      {"d":"bank","m":"Forman−RF","e":"Combined","n":50,"v":0.0011},
      {"d":"bank","m":"Forman−RF","e":"Labeled","n":10,"v":0.0206,"lo":0.0178,"hi":0.0233},
      {"d":"bank","m":"Forman−RF","e":"Labeled","n":20,"v":0.0099,"lo":0.0083,"hi":0.0115},
      {"d":"bank","m":"Forman−RF","e":"Labeled","n":30,"v":0.0064,"lo":0.0058,"hi":0.007},
      {"d":"bank","m":"Forman−RF","e":"Labeled","n":50,"v":0.0034,"lo":0.003,"hi":0.0038},
      {"d":"bank","m":"Forman−RF","e":"Ratio","n":10,"v":0.0018},
      {"d":"bank","m":"Forman−RF","e":"Ratio","n":20,"v":0.0018},
      {"d":"bank","m":"Forman−RF","e":"Ratio","n":30,"v":0.0018},
      {"d":"bank","m":"Forman−RF","e":"Ratio","n":50,"v":0.0018},

      {"d":"bank","m":"RKHS−Gauss","e":"Combined","n":10,"v":0.0015},
      {"d":"bank","m":"RKHS−Gauss","e":"Combined","n":20,"v":0.0014},
      {"d":"bank","m":"RKHS−Gauss","e":"Combined","n":30,"v":0.0012},
      {"d":"bank","m":"RKHS−Gauss","e":"Combined","n":50,"v":0.001},
      {"d":"bank","m":"RKHS−Gauss","e":"Labeled","n":10,"v":0.0206,"lo":0.0178,"hi":0.0233},
      {"d":"bank","m":"RKHS−Gauss","e":"Labeled","n":20,"v":0.0099,"lo":0.0083,"hi":0.0115},
      {"d":"bank","m":"RKHS−Gauss","e":"Labeled","n":30,"v":0.0064,"lo":0.0058,"hi":0.007},
      {"d":"bank","m":"RKHS−Gauss","e":"Labeled","n":50,"v":0.0034,"lo":0.003,"hi":0.0038},
      {"d":"bank","m":"RKHS−Gauss","e":"Ratio","n":10,"v":0.0016},
      {"d":"bank","m":"RKHS−Gauss","e":"Ratio","n":20,"v":0.0016},
      {"d":"bank","m":"RKHS−Gauss","e":"Ratio","n":30,"v":0.0016},
      {"d":"bank","m":"RKHS−Gauss","e":"Ratio","n":50,"v":0.0016},

      {"d":"bank","m":"RKHS−Linear","e":"Combined","n":10,"v":0.0021},
      {"d":"bank","m":"RKHS−Linear","e":"Combined","n":20,"v":0.0018},
      {"d":"bank","m":"RKHS−Linear","e":"Combined","n":30,"v":0.0015},
      {"d":"bank","m":"RKHS−Linear","e":"Combined","n":50,"v":0.0012},
      {"d":"bank","m":"RKHS−Linear","e":"Labeled","n":10,"v":0.0206,"lo":0.0178,"hi":0.0233},
      {"d":"bank","m":"RKHS−Linear","e":"Labeled","n":20,"v":0.0099,"lo":0.0083,"hi":0.0115},
      {"d":"bank","m":"RKHS−Linear","e":"Labeled","n":30,"v":0.0064,"lo":0.0058,"hi":0.007},
      {"d":"bank","m":"RKHS−Linear","e":"Labeled","n":50,"v":0.0034,"lo":0.003,"hi":0.0038},
      {"d":"bank","m":"RKHS−Linear","e":"Ratio","n":10,"v":0.0024},
      {"d":"bank","m":"RKHS−Linear","e":"Ratio","n":20,"v":0.0024},
      {"d":"bank","m":"RKHS−Linear","e":"Ratio","n":30,"v":0.0024},
      {"d":"bank","m":"RKHS−Linear","e":"Ratio","n":50,"v":0.0023}
    ]
  },
  "resolve": {"scale": {"x": "independent", "y": "independent"}},
  "spacing": 8,
  "vconcat": [
    {
      "resolve": {"scale": {"x": "independent", "y": "independent"}},
      "spacing": 10,
      "vconcat": [
        {
          "resolve": {"scale": {"x": "independent", "y": "independent"}},
          "spacing": 3,
          "vconcat": [
            {
              "resolve": {"scale": {"x": "independent", "y": "independent"}},
              "spacing": 8,
              "vconcat": [
                {
                  "spacing": -2,
                  "resolve": {"scale": {"x": "independent", "y": "independent"}},
                  "vconcat": [
                    {
                      "data": {"name": "methods"},
                      "facet": {"column": {"field": "m", "type": "nominal", "sort": ["Bella−knn","Forman−knn","Bella−LR","Forman−LR","Bella−RF","Forman−RF","RKHS−Gauss","RKHS−Linear"], "header": null}},
                      "spacing": 9,
                      "spec": {
                        "width": 146,
                        "height": 36,
                        "view": {"fill": "#D9D9D9", "stroke": "#333333", "strokeWidth": 2},
                        "mark": {"type": "text", "fontSize": 17.6, "color": "#1A1A1A"},
                        "encoding": {"text": {"field": "m", "type": "nominal"}}
                      }
                    },
                    {
                      "spacing": -2,
                      "hconcat": [
                        {
                          "data": {"name": "results"},
                          "transform": [{"filter": "datum.d === 'cancer'"}],
                          "facet": {"column": {"field": "m", "type": "nominal", "sort": ["Bella−knn","Forman−knn","Bella−LR","Forman−LR","Bella−RF","Forman−RF","RKHS−Gauss","RKHS−Linear"], "header": null}},
                          "spacing": 9,
                          "spec": {
                            "width": 146,
                            "height": 163,
                            "encoding": {
                              "x": {"field": "n", "type": "ordinal", "scale": {"type": "point", "padding": 0.6}, "axis": {"title": null, "labels": false, "ticks": false, "grid": true}},
                              "y": {"field": "v", "type": "quantitative", "scale": {"domain": [-0.00082, 0.0228], "nice": false, "zero": false},
                                    "axis": {"title": null, "values": [0,0.0025,0.005,0.0075,0.01,0.0125,0.015,0.0175,0.02,0.0225],
                                             "labelExpr": "round(datum.value*400) % 2 === 1 ? '' : format(datum.value, '.3f')",
                                             "gridWidth": {"condition": {"test": "round(datum.value*400) % 2 === 1", "value": 1}, "value": 2},
                                             "tickOpacity": {"condition": {"test": "round(datum.value*400) % 2 === 1", "value": 0}, "value": 1}}}
                            },
                            "layer": [
                              {"mark": {"type": "line", "strokeWidth": 1.8},
                               "encoding": {"color": {"field": "e", "type": "nominal", "title": "Estimator", "scale": {"domain": ["Combined","Labeled","Ratio"], "range": ["#F8766D","#00BA38","#619CFF"]}},
                                            "strokeDash": {"field": "e", "type": "nominal", "legend": null, "scale": {"domain": ["Combined","Labeled","Ratio"], "range": [[1,0],[3.5,3.5],[7,3.5]]}}}},
                              {"mark": {"type": "rule", "strokeWidth": 2},
                               "encoding": {"y": {"field": "lo", "type": "quantitative", "scale": {"domain": [-0.00082, 0.0228], "nice": false, "zero": false}}, "y2": {"field": "hi"},
                                            "color": {"field": "e", "type": "nominal", "title": "Estimator"}}},
                              {"transform": [{"filter": "datum.e === 'Combined'"}], "mark": {"type": "point", "shape": "circle", "filled": true, "size": 95, "opacity": 1}, "encoding": {"color": {"field": "e", "type": "nominal", "title": "Estimator"}}},
                              {"transform": [{"filter": "datum.e === 'Labeled'"}], "mark": {"type": "point", "shape": "triangle-up", "filled": true, "size": 130, "opacity": 1}, "encoding": {"color": {"field": "e", "type": "nominal", "title": "Estimator"}}},
                              {"transform": [{"filter": "datum.e === 'Ratio'"}], "mark": {"type": "point", "shape": "square", "filled": true, "size": 90, "opacity": 1}, "encoding": {"color": {"field": "e", "type": "nominal", "title": "Estimator"}}},
                              {"transform": [{"filter": "false"}], "mark": {"type": "point", "filled": true, "opacity": 1},
                               "encoding": {
                                 "color": {"field": "e", "type": "nominal", "title": "Estimator",
                                           "legend": {"encode": {"symbols": {"update": {"stroke": {"scale": "color", "field": "value"}, "strokeWidth": {"value": 2}}}}}},
                                 "shape": {"field": "e", "type": "nominal", "title": "Estimator",
                                           "scale": {"domain": ["Combined","Labeled","Ratio"],
                                                     "range": ["M-0.92,0H0.92M0,-1.04V1.04M-0.32,0A0.32,0.32 0 1,0 0.32,0A0.32,0.32 0 1,0 -0.32,0Z",
                                                               "M-0.92,0H-0.64M-0.36,0H-0.08M0.2,0H0.48M0.76,0H0.92M0,-1.04V1.04M0,-0.38L0.36,0.26L-0.36,0.26Z",
                                                               "M-0.92,0H-0.36M-0.08,0H0.48M0.76,0H0.92M0,-1.04V1.04M-0.3,-0.3H0.3V0.3H-0.3Z"]}}
                               }}
                            ]
                          }
                        },
                        {
                          "data": {"values": [{"d": "cancer"}]},
                          "width": 34,
                          "height": 163,
                          "view": {"fill": "#D9D9D9", "stroke": "#333333", "strokeWidth": 2},
                          "mark": {"type": "text", "angle": 90, "fontSize": 17.6, "color": "#1A1A1A"},
                          "encoding": {"text": {"field": "d", "type": "nominal"}}
                        }
                      ]
                    }
                  ]
                },
                {
                  "spacing": -2,
                  "hconcat": [
                    {
                      "data": {"name": "results"},
                      "transform": [{"filter": "datum.d === 'candles'"}],
                      "facet": {"column": {"field": "m", "type": "nominal", "sort": ["Bella−knn","Forman−knn","Bella−LR","Forman−LR","Bella−RF","Forman−RF","RKHS−Gauss","RKHS−Linear"], "header": null}},
                      "spacing": 9,
                      "spec": {
                        "width": 146,
                        "height": 163,
                        "encoding": {
                          "x": {"field": "n", "type": "ordinal", "scale": {"type": "point", "padding": 0.6}, "axis": {"title": null, "labels": false, "ticks": false, "grid": true}},
                          "y": {"field": "v", "type": "quantitative", "scale": {"domain": [-0.0001, 0.0214], "nice": false, "zero": false},
                                "axis": {"title": null, "values": [0,0.0025,0.005,0.0075,0.01,0.0125,0.015,0.0175,0.02],
                                         "labelExpr": "round(datum.value*400) % 2 === 1 ? '' : format(datum.value, '.3f')",
                                         "gridWidth": {"condition": {"test": "round(datum.value*400) % 2 === 1", "value": 1}, "value": 2},
                                         "tickOpacity": {"condition": {"test": "round(datum.value*400) % 2 === 1", "value": 0}, "value": 1}}}
                        },
                        "layer": [
                          {"mark": {"type": "line", "strokeWidth": 1.8},
                           "encoding": {"color": {"field": "e", "type": "nominal", "title": "Estimator"},
                                        "strokeDash": {"field": "e", "type": "nominal", "legend": null}}},
                          {"mark": {"type": "rule", "strokeWidth": 2},
                           "encoding": {"y": {"field": "lo", "type": "quantitative", "scale": {"domain": [-0.0001, 0.0214], "nice": false, "zero": false}}, "y2": {"field": "hi"},
                                        "color": {"field": "e", "type": "nominal", "title": "Estimator"}}},
                          {"transform": [{"filter": "datum.e === 'Combined'"}], "mark": {"type": "point", "shape": "circle", "filled": true, "size": 95, "opacity": 1}, "encoding": {"color": {"field": "e", "type": "nominal", "title": "Estimator"}}},
                          {"transform": [{"filter": "datum.e === 'Labeled'"}], "mark": {"type": "point", "shape": "triangle-up", "filled": true, "size": 130, "opacity": 1}, "encoding": {"color": {"field": "e", "type": "nominal", "title": "Estimator"}}},
                          {"transform": [{"filter": "datum.e === 'Ratio'"}], "mark": {"type": "point", "shape": "square", "filled": true, "size": 90, "opacity": 1}, "encoding": {"color": {"field": "e", "type": "nominal", "title": "Estimator"}}}
                        ]
                      }
                    },
                    {
                      "data": {"values": [{"d": "candles"}]},
                      "width": 34,
                      "height": 163,
                      "view": {"fill": "#D9D9D9", "stroke": "#333333", "strokeWidth": 2},
                      "mark": {"type": "text", "angle": 90, "fontSize": 17.6, "color": "#1A1A1A"},
                      "encoding": {"text": {"field": "d", "type": "nominal"}}
                    }
                  ]
                }
              ]
            },
            {
              "spacing": -2,
              "hconcat": [
                {
                  "data": {"name": "results"},
                  "transform": [{"filter": "datum.d === 'block'"}],
                  "facet": {"column": {"field": "m", "type": "nominal", "sort": ["Bella−knn","Forman−knn","Bella−LR","Forman−LR","Bella−RF","Forman−RF","RKHS−Gauss","RKHS−Linear"], "header": null}},
                  "spacing": 9,
                  "spec": {
                    "width": 146,
                    "height": 163,
                    "encoding": {
                      "x": {"field": "n", "type": "ordinal", "scale": {"type": "point", "padding": 0.6}, "axis": {"title": null, "labels": false, "ticks": false, "grid": true}},
                      "y": {"field": "v", "type": "quantitative", "scale": {"domain": [-0.00103, 0.02393], "nice": false, "zero": false},
                            "axis": {"title": "Error", "titleY": 95, "values": [0,0.0025,0.005,0.0075,0.01,0.0125,0.015,0.0175,0.02,0.0225],
                                     "labelExpr": "round(datum.value*400) % 2 === 1 ? '' : format(datum.value, '.3f')",
                                     "gridWidth": {"condition": {"test": "round(datum.value*400) % 2 === 1", "value": 1}, "value": 2},
                                     "tickOpacity": {"condition": {"test": "round(datum.value*400) % 2 === 1", "value": 0}, "value": 1}}}
                    },
                    "layer": [
                      {"mark": {"type": "line", "strokeWidth": 1.8},
                       "encoding": {"color": {"field": "e", "type": "nominal", "title": "Estimator"},
                                    "strokeDash": {"field": "e", "type": "nominal", "legend": null}}},
                      {"mark": {"type": "rule", "strokeWidth": 2},
                       "encoding": {"y": {"field": "lo", "type": "quantitative", "scale": {"domain": [-0.00103, 0.02393], "nice": false, "zero": false}}, "y2": {"field": "hi"},
                                    "color": {"field": "e", "type": "nominal", "title": "Estimator"}}},
                      {"transform": [{"filter": "datum.e === 'Combined'"}], "mark": {"type": "point", "shape": "circle", "filled": true, "size": 95, "opacity": 1}, "encoding": {"color": {"field": "e", "type": "nominal", "title": "Estimator"}}},
                      {"transform": [{"filter": "datum.e === 'Labeled'"}], "mark": {"type": "point", "shape": "triangle-up", "filled": true, "size": 130, "opacity": 1}, "encoding": {"color": {"field": "e", "type": "nominal", "title": "Estimator"}}},
                      {"transform": [{"filter": "datum.e === 'Ratio'"}], "mark": {"type": "point", "shape": "square", "filled": true, "size": 90, "opacity": 1}, "encoding": {"color": {"field": "e", "type": "nominal", "title": "Estimator"}}}
                    ]
                  }
                },
                {
                  "data": {"values": [{"d": "block"}]},
                  "width": 34,
                  "height": 163,
                  "view": {"fill": "#D9D9D9", "stroke": "#333333", "strokeWidth": 2},
                  "mark": {"type": "text", "angle": 90, "fontSize": 17.6, "color": "#1A1A1A"},
                  "encoding": {"text": {"field": "d", "type": "nominal"}}
                }
              ]
            }
          ]
        },
        {
          "spacing": -2,
          "hconcat": [
            {
              "data": {"name": "results"},
              "transform": [{"filter": "datum.d === 'spam'"}],
              "facet": {"column": {"field": "m", "type": "nominal", "sort": ["Bella−knn","Forman−knn","Bella−LR","Forman−LR","Bella−RF","Forman−RF","RKHS−Gauss","RKHS−Linear"], "header": null}},
              "spacing": 9,
              "spec": {
                "width": 146,
                "height": 163,
                "encoding": {
                  "x": {"field": "n", "type": "ordinal", "scale": {"type": "point", "padding": 0.6}, "axis": {"title": null, "labels": false, "ticks": false, "grid": true}},
                  "y": {"field": "v", "type": "quantitative", "scale": {"domain": [-0.00086, 0.02356], "nice": false, "zero": false},
                        "axis": {"title": null, "values": [0,0.0025,0.005,0.0075,0.01,0.0125,0.015,0.0175,0.02,0.0225],
                                 "labelExpr": "round(datum.value*400) % 2 === 1 ? '' : format(datum.value, '.3f')",
                                 "gridWidth": {"condition": {"test": "round(datum.value*400) % 2 === 1", "value": 1}, "value": 2},
                                 "tickOpacity": {"condition": {"test": "round(datum.value*400) % 2 === 1", "value": 0}, "value": 1}}}
                },
                "layer": [
                  {"mark": {"type": "line", "strokeWidth": 1.8},
                   "encoding": {"color": {"field": "e", "type": "nominal", "title": "Estimator"},
                                "strokeDash": {"field": "e", "type": "nominal", "legend": null}}},
                  {"mark": {"type": "rule", "strokeWidth": 2},
                   "encoding": {"y": {"field": "lo", "type": "quantitative", "scale": {"domain": [-0.00086, 0.02356], "nice": false, "zero": false}}, "y2": {"field": "hi"},
                                "color": {"field": "e", "type": "nominal", "title": "Estimator"}}},
                  {"transform": [{"filter": "datum.e === 'Combined'"}], "mark": {"type": "point", "shape": "circle", "filled": true, "size": 95, "opacity": 1}, "encoding": {"color": {"field": "e", "type": "nominal", "title": "Estimator"}}},
                  {"transform": [{"filter": "datum.e === 'Labeled'"}], "mark": {"type": "point", "shape": "triangle-up", "filled": true, "size": 130, "opacity": 1}, "encoding": {"color": {"field": "e", "type": "nominal", "title": "Estimator"}}},
                  {"transform": [{"filter": "datum.e === 'Ratio'"}], "mark": {"type": "point", "shape": "square", "filled": true, "size": 90, "opacity": 1}, "encoding": {"color": {"field": "e", "type": "nominal", "title": "Estimator"}}}
                ]
              }
            },
            {
              "data": {"values": [{"d": "spam"}]},
              "width": 34,
              "height": 163,
              "view": {"fill": "#D9D9D9", "stroke": "#333333", "strokeWidth": 2},
              "mark": {"type": "text", "angle": 90, "fontSize": 17.6, "color": "#1A1A1A"},
              "encoding": {"text": {"field": "d", "type": "nominal"}}
            }
          ]
        }
      ]
    },
    {
      "spacing": -2,
      "hconcat": [
        {
          "data": {"name": "results"},
          "transform": [{"filter": "datum.d === 'bank'"}],
          "facet": {"column": {"field": "m", "type": "nominal", "sort": ["Bella−knn","Forman−knn","Bella−LR","Forman−LR","Bella−RF","Forman−RF","RKHS−Gauss","RKHS−Linear"],
                               "header": {"title": "Labeled size", "titleOrient": "bottom", "labels": false, "titleFontSize": 22, "titleFontWeight": "normal", "titleColor": "#000000", "titlePadding": -4}}},
          "spacing": 9,
          "spec": {
            "width": 146,
            "height": 163,
            "encoding": {
              "x": {"field": "n", "type": "ordinal", "scale": {"type": "point", "padding": 0.6}, "axis": {"title": null, "labelAngle": 0, "grid": true, "ticks": true}},
              "y": {"field": "v", "type": "quantitative", "scale": {"domain": [-0.00015, 0.02452], "nice": false, "zero": false},
                    "axis": {"title": null, "values": [0,0.0025,0.005,0.0075,0.01,0.0125,0.015,0.0175,0.02,0.0225],
                             "labelExpr": "round(datum.value*400) % 2 === 1 ? '' : format(datum.value, '.3f')",
                             "gridWidth": {"condition": {"test": "round(datum.value*400) % 2 === 1", "value": 1}, "value": 2},
                             "tickOpacity": {"condition": {"test": "round(datum.value*400) % 2 === 1", "value": 0}, "value": 1}}}
            },
            "layer": [
              {"mark": {"type": "line", "strokeWidth": 1.8},
               "encoding": {"color": {"field": "e", "type": "nominal", "title": "Estimator"},
                            "strokeDash": {"field": "e", "type": "nominal", "legend": null}}},
              {"mark": {"type": "rule", "strokeWidth": 2},
               "encoding": {"y": {"field": "lo", "type": "quantitative", "scale": {"domain": [-0.00015, 0.02452], "nice": false, "zero": false}}, "y2": {"field": "hi"},
                            "color": {"field": "e", "type": "nominal", "title": "Estimator"}}},
              {"transform": [{"filter": "datum.e === 'Combined'"}], "mark": {"type": "point", "shape": "circle", "filled": true, "size": 95, "opacity": 1}, "encoding": {"color": {"field": "e", "type": "nominal", "title": "Estimator"}}},
              {"transform": [{"filter": "datum.e === 'Labeled'"}], "mark": {"type": "point", "shape": "triangle-up", "filled": true, "size": 130, "opacity": 1}, "encoding": {"color": {"field": "e", "type": "nominal", "title": "Estimator"}}},
              {"transform": [{"filter": "datum.e === 'Ratio'"}], "mark": {"type": "point", "shape": "square", "filled": true, "size": 90, "opacity": 1}, "encoding": {"color": {"field": "e", "type": "nominal", "title": "Estimator"}}}
            ]
          }
        },
        {
          "data": {"values": [{"d": "bank"}]},
          "width": 34,
          "height": 163,
          "view": {"fill": "#D9D9D9", "stroke": "#333333", "strokeWidth": 2},
          "mark": {"type": "text", "angle": 90, "fontSize": 17.6, "color": "#1A1A1A"},
          "encoding": {"text": {"field": "d", "type": "nominal"}}
        }
      ]
    }
  ]
}
